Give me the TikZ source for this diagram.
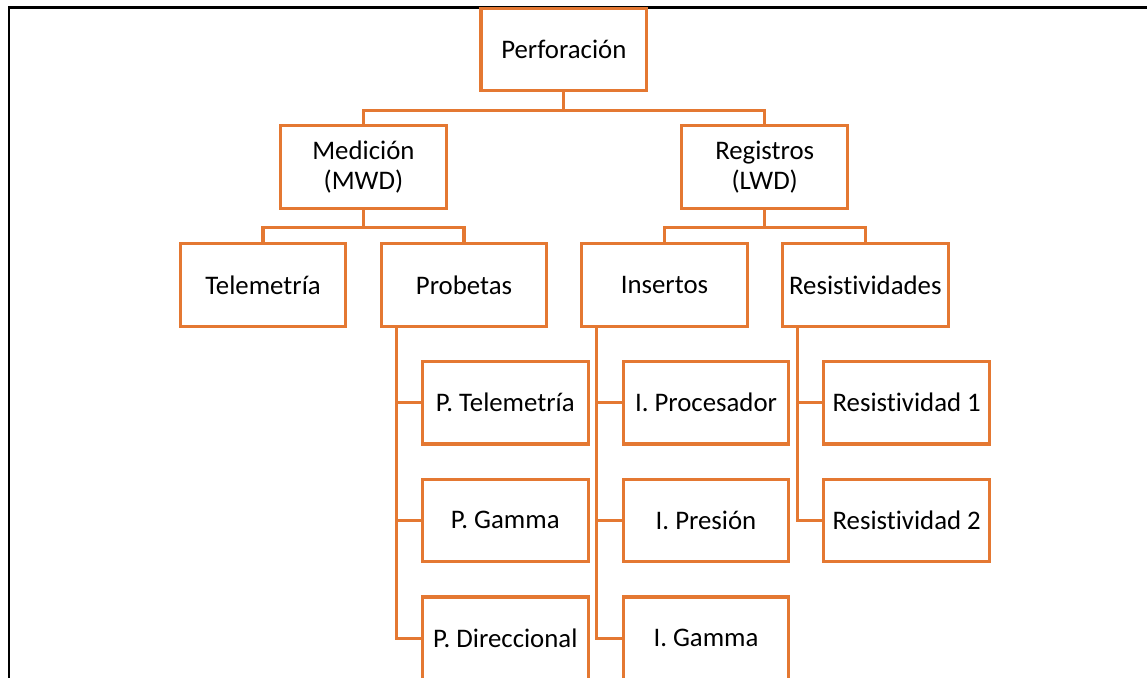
\documentclass[tikz,border=0pt]{standalone}
\usepackage{fontspec}
\setmainfont{Carlito}[Ligatures=NoCommon]
\definecolor{accent}{RGB}{228,120,50}
\begin{document}
\begin{tikzpicture}[x=1pt,y=-1pt,
  box/.style={draw=accent,line width=3.2pt,fill=white,minimum width=165.7pt,
    minimum height=82.6pt,inner sep=0pt,align=center,
    font=\fontsize{26.8}{29.5}\selectfont},
  link/.style={draw=accent,line width=3.2pt}]
\useasboundingbox (0,0) rectangle (1147,677);
\clip (0,0) rectangle (1147,677);
\fill[white] (0,0) rectangle (1147,677);

% frame
\draw[line width=2.6pt,line cap=rect] (9,690) -- (9,7.5) -- (1150,7.5);

% level 0 and 1
\node[box] (perf) at (563.8,49.5) {Perforación};
\node[box] (med) at (363.4,167) {Medición\\(MWD)};
\node[box] (reg) at (764.7,167) {Registros\\(LWD)};

% level 2
\node[box] (tel) at (263,285.1) {Telemetría};
\node[box] (prob) at (464,285.1) {Probetas};
\node[box] (ins) at (664.5,285.1) {Insertos};
\node[box] (resd) at (865.3,285.1) {Resistividades};

% level 3
\node[box] (pt) at (505.3,402.7) {P. Telemetría};
\node[box] (pg) at (505.3,520.4) {P. Gamma};
\node[box] (pd) at (505.3,638.3) {P. Direccional};
\node[box] (ip) at (706,402.7) {I. Procesador};
\node[box] (ipr) at (706,520.4) {I. Presión};
\node[box] (ig) at (706,638.3) {I. Gamma};
\node[box] (r1) at (906.7,402.7) {Resistividad 1};
\node[box] (r2) at (906.7,520.4) {Resistividad 2};

% tree connectors
\draw[link] (perf.south) -- ++(0,17.7) -| (med.north);
\draw[link] (perf.south) -- ++(0,17.7) -| (reg.north);
\draw[link] (med.south) -- ++(0,17.6) -| (tel.north);
\draw[link] (med.south) -- ++(0,17.6) -| (prob.north);
\draw[link] (reg.south) -- ++(0,17.6) -| (ins.north);
\draw[link] (reg.south) -- ++(0,17.6) -| (resd.north);

% side connectors
\foreach \p/\c in {prob/pt,prob/pg,prob/pd,ins/ip,ins/ipr,ins/ig,resd/r1,resd/r2}
  \draw[link] ([xshift=16.7pt]\p.south west) |- (\c.west);
\end{tikzpicture}
\end{document}
